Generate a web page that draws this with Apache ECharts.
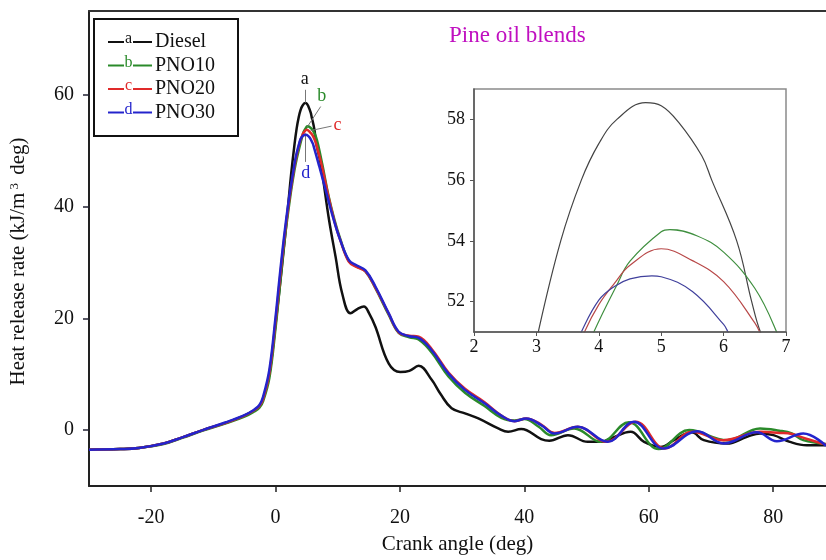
<!DOCTYPE html>
<html>
<head>
<meta charset="utf-8">
<script src="https://cdn.jsdelivr.net/npm/echarts@6/dist/echarts.min.js"></script>
<style>
  html, body { margin: 0; padding: 0; background: #fff; }
  #chart { width: 826px; height: 560px; }
</style>
</head>
<body>
<div id="chart"></div>
<script>
// crank angle (deg) / heat release rate (kJ/m3 deg)
const seriesNames = ['Diesel', 'PNO10', 'PNO20', 'PNO30'];
const seriesLetters = ['a', 'b', 'c', 'd'];
const lineColors = ['#111111', '#2a8a2a', '#e02a2a', '#2424cc'];
const insetColors = ['#444444', '#3f8f3f', '#b84848', '#40409c'];

const xTicks = [-20, 0, 20, 40, 60, 80];
const yTicks = [0, 20, 40, 60];
const insetYTicks = [52, 54, 56, 58];

const diesel = [
  [-30, -3.5], [-25, -3.4], [-22, -3.2], [-18, -2.4], [-15, -1.3], [-11.7, 0], [-8, 1.3],
  [-5, 2.6], [-3.5, 3.5], [-2.6, 4.3], [-2, 5.6], [-1, 10], [0, 19], [1, 29], [2, 40],
  [2.5, 45.8], [3.03, 51], [3.39, 54], [3.72, 56], [4, 57.2], [4.29, 58], [4.75, 58.55],
  [5, 58.45], [5.28, 57.9], [5.65, 56.8], [5.81, 56], [6.21, 54], [6.45, 52], [6.59, 51],
  [7.25, 47.7], [8.6, 37.6], [9.65, 31], [10.7, 24.5], [12.05, 20.9], [13.2, 21.7],
  [14.2, 22.1], [15, 21], [16.05, 18.5], [18.2, 11.9], [20.05, 10.4], [21.5, 10.6],
  [23, 11.5], [25.1, 9], [26.5, 6.5], [28.3, 3.9], [30.45, 3], [32.6, 2.1], [35.8, 0.3],
  [37.4, -0.3], [39.5, 0.2], [42.7, -1.6], [44, -1.9], [47, -0.9], [50.2, -2.1], [52.3, -2.1],
  [53.9, -1.5], [57.1, -0.3], [59.25, -2.1], [61.9, -3], [64.05, -1.8], [66.9, -0.4],
  [68.85, -1.8], [72.6, -2.4], [75.8, -1.2], [77.9, -0.6], [80.05, -0.9], [82.7, -2.1],
  [85.4, -2.7], [88.5, -2.7]
];
const pno10 = [
  [-30, -3.5], [-25, -3.4], [-22, -3.2], [-18, -2.5], [-15, -1.4], [-11.7, -0.1], [-8, 1.2],
  [-5, 2.4], [-3.5, 3.3], [-2.6, 4], [-2, 5.2], [-1, 9.3], [0, 18.3], [0.6, 24.8], [1.4, 33.5],
  [2.2, 40.5], [2.8, 45], [3.25, 47.8], [3.92, 51], [4.29, 52.55], [4.5, 53.33], [5, 54.3],
  [5.14, 54.37], [5.57, 54.17], [6, 53.63], [6.5, 52.44], [6.85, 51], [7.5, 47.6], [8.5, 42],
  [9.5, 37.5], [10.4, 34.2], [11.8, 30.2], [13, 29.3], [14.45, 28.4], [16.05, 25.4],
  [18.2, 20.6], [19.8, 17.4], [21.5, 16.6], [23, 16.2], [25.1, 13.9], [27.8, 9.6],
  [30.45, 6.7], [33.6, 4.3], [36.3, 2.2], [38.45, 1.7], [40, 2], [42.3, 0.6], [44.3, -0.9],
  [48, 0.3], [52.3, -2.1], [56.8, 1.4], [61.6, -3.4], [66.5, 0], [72.6, -1.8], [77.9, 0.3],
  [81, -0.1], [83, -0.6], [84.85, -1.8], [88.5, -2.5]
];
const pno20 = [
  [-30, -3.5], [-25, -3.4], [-22, -3.2], [-18, -2.4], [-15, -1.3], [-11.7, 0], [-8, 1.3],
  [-5, 2.6], [-3.5, 3.5], [-2.6, 4.3], [-2, 5.6], [-1, 10.2], [0, 19.5], [0.6, 26], [1.4, 34.3],
  [2.2, 41.2], [2.8, 45.6], [3.25, 48.5], [3.77, 51], [4, 51.9], [4.25, 52.6], [4.5, 53.2],
  [5, 53.74], [5.5, 53.35], [6, 52.66], [6.5, 51.3], [6.6, 50.9], [7.5, 47], [8.5, 41.8],
  [9.5, 37.2], [10.4, 34], [11.8, 30.1], [13, 29.2], [14.45, 28.4], [16.05, 25.5],
  [18.2, 20.8], [19.8, 17.5], [21.5, 16.9], [23, 16.7], [25.1, 14.5], [27.8, 10.3],
  [30.45, 7.4], [33.6, 5], [36.3, 2.6], [38.45, 1.6], [40.3, 2.1], [42.7, 1], [44.85, -0.5],
  [48.6, 0.6], [53.2, -2.1], [57.9, 1.5], [62.6, -3.3], [67, -0.3], [72, -1.8], [78, -0.3],
  [81, -0.5], [83, -0.7], [85.2, -1.5], [88.5, -2.6]
];
const pno30 = [
  [-30, -3.5], [-25, -3.4], [-22, -3.2], [-18, -2.4], [-15, -1.3], [-11.7, 0], [-8, 1.4],
  [-5, 2.7], [-3.5, 3.6], [-2.6, 4.5], [-2, 6], [-1, 10.8], [0, 20.3], [0.6, 26.9], [1.4, 35],
  [2.2, 41.8], [2.8, 46], [3.25, 48.9], [3.72, 51], [4, 52.05], [4.25, 52.5], [4.5, 52.75],
  [4.85, 52.85], [5, 52.82], [5.5, 52.33], [6, 51.25], [6.07, 51], [7, 47.3], [8.05, 43],
  [9.2, 38.2], [10.4, 34], [11.8, 30.4], [13, 29.5], [14.45, 28.6], [16.05, 25.7],
  [18.2, 20.9], [19.8, 17.6], [21.5, 16.8], [23, 16.5], [25.1, 14.3], [27.8, 10.1],
  [30.45, 7.2], [33.6, 4.8], [36.3, 2.6], [38.45, 1.6], [40.3, 2.1], [42.7, 0.9], [44.85, -0.6],
  [48.6, 0.6], [53.4, -2.1], [57.6, 1.5], [62.4, -3.3], [67.8, -0.2], [72.05, -2.4],
  [77.4, -0.4], [80.6, -2], [84.85, -0.6], [88.5, -2.8]
];
const allData = [diesel, pno10, pno20, pno30];

const serif = "'Liberation Serif', 'DejaVu Serif', serif";

// peak annotations on main plot: [from, to] in data coords
const peakLeaders = [
  [[4.69, 58.6], [4.69, 60.9]],
  [[5.12, 54.3], [7.25, 57.9]],
  [[5.65, 53.6], [9.0, 54.4]],
  [[4.85, 53.1], [4.85, 48.0]]
];
// letter positions inside the inset
const insetLabelPos = [[5.75, 56.67], [5.57, 54.62], [5.41, 53.74], [5.30, 52.8]];

const myChart = echarts.init(document.getElementById('chart'));

const series = [];
allData.forEach((d, i) => {
  series.push({
    name: seriesNames[i],
    type: 'line',
    xAxisIndex: 0, yAxisIndex: 0,
    data: d,
    smooth: 0.4,
    showSymbol: false,
    lineStyle: { color: lineColors[i], width: 2.5 },
    z: 3 + i,
    markLine: {
      silent: true,
      symbol: 'none',
      animation: false,
      lineStyle: { color: '#777', width: 1, type: 'solid' },
      label: {
        show: true, position: 'end', formatter: seriesLetters[i], distance: 2,
        color: lineColors[i], fontFamily: serif, fontSize: 18
      },
      data: [[{ coord: peakLeaders[i][0] }, { coord: peakLeaders[i][1] }]]
    }
  });
});
allData.forEach((d, i) => {
  series.push({
    type: 'line',
    xAxisIndex: 2, yAxisIndex: 1,
    data: d,
    smooth: 0.4,
    showSymbol: false,
    clip: true,
    lineStyle: { color: insetColors[i], width: 1.2 },
    z: 20,
    markPoint: {
      symbol: 'circle', symbolSize: 0, animation: false,
      label: {
        show: true, position: 'inside', formatter: seriesLetters[i],
        color: lineColors[i], fontFamily: serif, fontSize: 18
      },
      data: [{ coord: insetLabelPos[i] }]
    }
  });
});

// legend box drawn as graphic
const legendItems = [];
legendItems.push({
  type: 'rect', left: 93, top: 18,
  shape: { width: 144, height: 117 },
  style: { fill: '#fff', stroke: '#111', lineWidth: 2 }, z: 50
});
seriesNames.forEach((name, i) => {
  const y = 42 + i * 23.5;
  legendItems.push({ type: 'line', shape: { x1: 108, y1: y, x2: 124, y2: y }, style: { stroke: lineColors[i], lineWidth: 2 }, z: 51 });
  legendItems.push({ type: 'line', shape: { x1: 133, y1: y, x2: 152, y2: y }, style: { stroke: lineColors[i], lineWidth: 2 }, z: 51 });
  legendItems.push({ type: 'text', x: 128.5, y: y - 3, style: { text: seriesLetters[i], fill: lineColors[i], font: '16px ' + serif, textAlign: 'center', textVerticalAlign: 'middle' }, z: 51 });
  legendItems.push({ type: 'text', x: 155, y: y, style: { text: name, fill: '#111', font: '20px ' + serif, textAlign: 'left', textVerticalAlign: 'middle' }, z: 51 });
});

const option = {
  backgroundColor: '#fff',
  animation: false,
  title: {
    text: 'Pine oil blends', left: 444, top: 19,
    textStyle: { color: '#c010c0', fontFamily: serif, fontSize: 23, fontWeight: 'normal' }
  },
  grid: [
    { left: 86, top: 11, right: 0, bottom: 73 },
    { left: 474, top: 89, width: 312, height: 243, show: true, backgroundColor: '#fff', borderColor: '#8a8a8a', borderWidth: 1.5, z: 10 }
  ],
  xAxis: [
    {
      type: 'value', gridIndex: 0, min: -30, max: 88.5,
      name: 'Crank angle (deg)', nameLocation: 'middle', nameGap: 48,
      nameTextStyle: { fontFamily: serif, fontSize: 21, color: '#111' },
      axisLine: { onZero: false, lineStyle: { color: '#222', width: 2 } },
      axisTick: { show: true, length: 6, customValues: xTicks, lineStyle: { color: '#222', width: 1.5 } },
      axisLabel: { customValues: xTicks, margin: 22, fontFamily: serif, fontSize: 20, color: '#111' },
      splitLine: { show: false }
    },
    {
      type: 'value', gridIndex: 0, position: 'top', min: -30, max: 88.5,
      axisLine: { show: true, onZero: false, lineStyle: { color: '#333', width: 2 } },
      axisTick: { show: false }, axisLabel: { show: false }, splitLine: { show: false }
    },
    {
      type: 'value', gridIndex: 1, min: 2, max: 7, interval: 1,
      axisLine: { onZero: false, lineStyle: { color: '#555', width: 1.5 } },
      axisTick: { length: 4, lineStyle: { color: '#555' } },
      axisLabel: { margin: 6, fontFamily: serif, fontSize: 18, color: '#111' },
      splitLine: { show: false }, z: 21
    }
  ],
  yAxis: [
    {
      type: 'value', gridIndex: 0, min: -10, max: 75,
      name: '{a|Heat release rate (kJ/m}{s|3}{a| deg)}', nameLocation: 'middle', nameGap: 60,
      nameTextStyle: {
        padding: [0, 26, 0, 0],
        rich: {
          a: { fontFamily: serif, fontSize: 21, color: '#111' },
          s: { fontFamily: serif, fontSize: 13, color: '#111', verticalAlign: 'top', padding: [0, 3, 8, 3] }
        }
      },
      axisLine: { onZero: false, lineStyle: { color: '#222', width: 2 } },
      axisTick: { show: true, length: 6, customValues: yTicks, lineStyle: { color: '#223', width: 1.5 } },
      axisLabel: { customValues: yTicks, margin: 15, fontFamily: serif, fontSize: 20, color: '#111' },
      splitLine: { show: false }
    },
    {
      type: 'value', gridIndex: 1, min: 51, max: 59,
      axisLine: { onZero: false, lineStyle: { color: '#555', width: 1.5 } },
      axisTick: { length: 4, customValues: insetYTicks, lineStyle: { color: '#555' } },
      axisLabel: { customValues: insetYTicks, margin: 9, fontFamily: serif, fontSize: 18, color: '#111' },
      splitLine: { show: false }, z: 21
    }
  ],
  graphic: legendItems,
  series: series
};

myChart.setOption(option);
</script>
</body>
</html>
